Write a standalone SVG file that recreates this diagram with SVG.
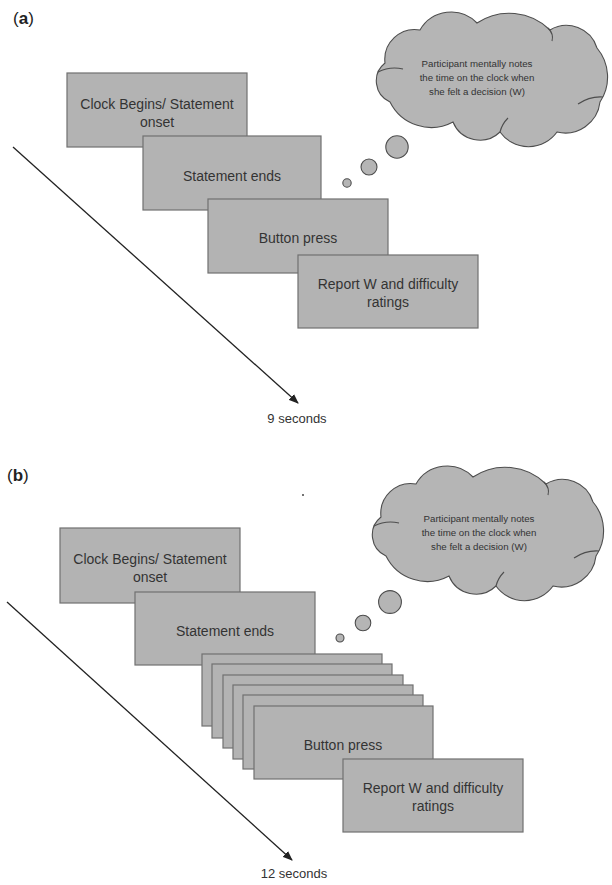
<svg xmlns="http://www.w3.org/2000/svg" width="612" height="885" viewBox="0 0 612 885">
<style>
.box{fill:#b3b3b3;stroke:#707070;stroke-width:1.2}
.cl{fill:#b5b5b5;stroke:#4d4d4d;stroke-width:1.1}
.hook{fill:none;stroke:#4d4d4d;stroke-width:1.1}
.t{font-family:"Liberation Sans",Arial,sans-serif;font-size:14px;fill:#333;text-anchor:middle}
.ct{font-family:"Liberation Sans",Arial,sans-serif;font-size:9.7px;fill:#333;text-anchor:middle}
.sec{font-family:"Liberation Sans",Arial,sans-serif;font-size:13px;fill:#333;text-anchor:middle}
.lab{font-family:"Liberation Sans",Arial,sans-serif;font-size:17px;fill:#222}
.ax{stroke:#222;stroke-width:1.3;fill:none}
</style>
<defs>
<marker id="ah" markerWidth="10" markerHeight="8" refX="9" refY="4" orient="auto" markerUnits="userSpaceOnUse">
<path d="M0,0 L10,4 L0,8 Z" fill="#222"/>
</marker>
<g id="cloud">
<path class="cl" d="M385,63 A30,30 0 0 1 420,30 A36,36 0 0 1 477,23 A58,58 0 0 1 550,30 A32,32 0 0 1 597,48 A45,45 0 0 1 600,102 A35,35 0 0 1 557,132 A35,35 0 0 1 500,132 A29,29 0 0 1 453,122 A46,46 0 0 1 390,102 A23,23 0 0 1 385,63 Z"/>
<path class="hook" d="M378,72 Q390,66 403,69"/>
<path class="hook" d="M548,28 Q554,34 552,41"/>
<path class="hook" d="M603,97 Q590,96 578,104"/>
<path class="hook" d="M500,132 Q502,124 508,118"/>
</g>
</defs>

<text class="lab" x="13" y="24">(<tspan font-weight="bold">a</tspan>)</text>
<text class="lab" x="7" y="481">(<tspan font-weight="bold">b</tspan>)</text>

<g id="connectors">
<line class="ax" x1="13" y1="147" x2="298" y2="403" marker-end="url(#ah)"/>
<line class="ax" x1="7" y1="602" x2="292" y2="860" marker-end="url(#ah)"/>
</g>

<!-- Panel a -->
<g id="a-cloud">
<use href="#cloud"/>
<text class="ct" x="477" y="67">Participant mentally notes</text>
<text class="ct" x="477" y="81">the time on the clock when</text>
<text class="ct" x="477" y="95">she felt a decision (W)</text>
</g>
<g id="a-bubbles">
<circle class="cl" cx="397" cy="147" r="11.2"/>
<circle class="cl" cx="369" cy="167" r="8"/>
<circle class="cl" cx="347" cy="183" r="4.2"/>
</g>
<g id="a-clock">
<rect class="box" x="67" y="73" width="180" height="74"/>
<text class="t" x="157" y="109">Clock Begins/ Statement</text>
<text class="t" x="157" y="127">onset</text>
</g>
<g id="a-statement">
<rect class="box" x="143" y="136" width="178" height="74"/>
<text class="t" x="232" y="181">Statement ends</text>
</g>
<g id="a-button">
<rect class="box" x="208" y="199" width="180" height="74"/>
<text class="t" x="298" y="243">Button press</text>
</g>
<g id="a-report">
<rect class="box" x="298" y="255" width="180" height="73"/>
<text class="t" x="388" y="289">Report W and difficulty</text>
<text class="t" x="388" y="307">ratings</text>
</g>
<text class="sec" x="297" y="423">9 seconds</text>

<!-- Panel b -->
<circle cx="303" cy="495" r="1" fill="#444"/>
<g id="b-cloud">
<use href="#cloud" transform="translate(-4,454)"/>
<text class="ct" x="479" y="522">Participant mentally notes</text>
<text class="ct" x="479" y="536">the time on the clock when</text>
<text class="ct" x="479" y="550">she felt a decision (W)</text>
</g>
<g id="b-bubbles">
<circle class="cl" cx="390" cy="602" r="11.4"/>
<circle class="cl" cx="363" cy="623" r="7.8"/>
<circle class="cl" cx="340" cy="638" r="4"/>
</g>
<g id="b-clock">
<rect class="box" x="60" y="528" width="180" height="75"/>
<text class="t" x="150" y="564">Clock Begins/ Statement</text>
<text class="t" x="150" y="582">onset</text>
</g>
<g id="b-statement">
<rect class="box" x="135" y="592" width="180" height="73"/>
<text class="t" x="225" y="636">Statement ends</text>
</g>
<g id="b-stack">
<rect class="box" x="202" y="654" width="180" height="72"/>
<rect class="box" x="212" y="664" width="180" height="74"/>
<rect class="box" x="223" y="675" width="180" height="73"/>
<rect class="box" x="233" y="685" width="180" height="74"/>
<rect class="box" x="243" y="695" width="180" height="74"/>
</g>
<g id="b-button">
<rect class="box" x="254" y="706" width="179" height="73"/>
<text class="t" x="343" y="750">Button press</text>
</g>
<g id="b-report">
<rect class="box" x="343" y="759" width="180" height="73"/>
<text class="t" x="433" y="793">Report W and difficulty</text>
<text class="t" x="433" y="811">ratings</text>
</g>
<text class="sec" x="294" y="878">12 seconds</text>
</svg>
